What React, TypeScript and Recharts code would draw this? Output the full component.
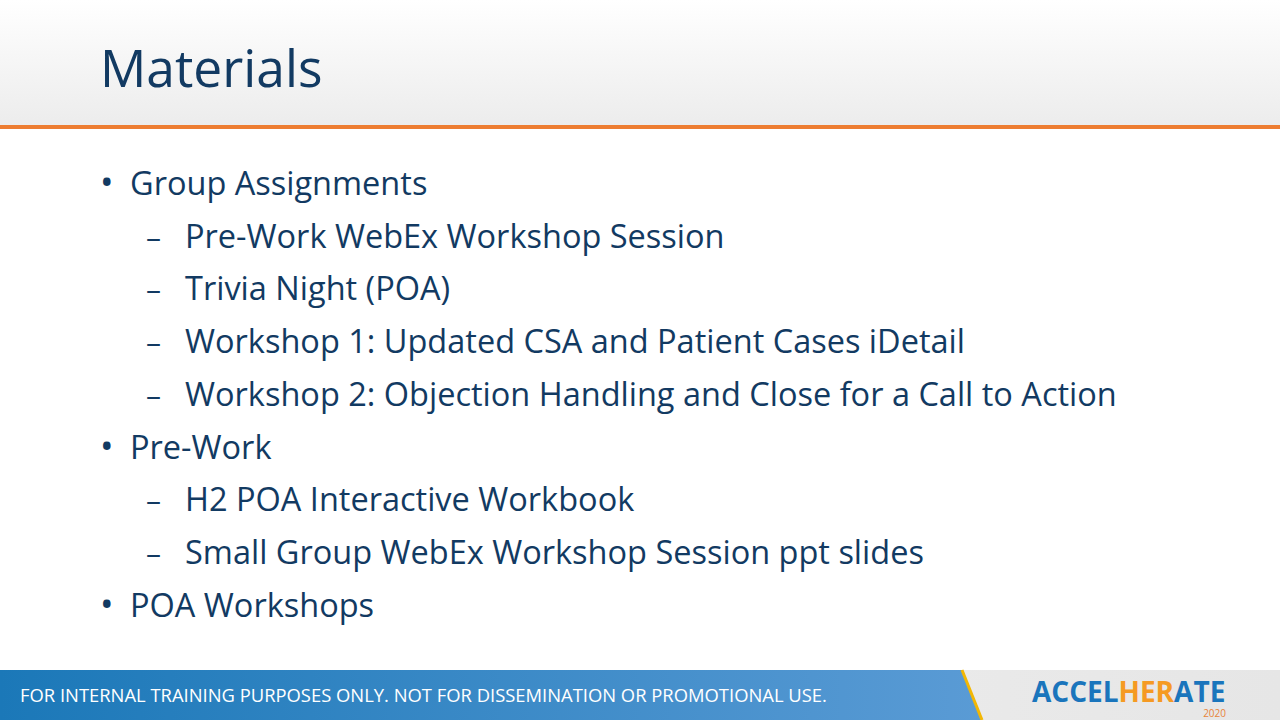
import { Surface, Text } from "recharts";

const TITLE = "Materials";
const ITEM_TEXTS = [
  "Group Assignments",
  "Pre-Work WebEx Workshop Session",
  "Trivia Night (POA)",
  "Workshop 1: Updated CSA and Patient Cases iDetail",
  "Workshop 2: Objection Handling and Close for a Call to Action",
  "Pre-Work",
  "H2 POA Interactive Workbook",
  "Small Group WebEx Workshop Session ppt slides",
  "POA Workshops",
];
const ITEM_LEVELS = [0, 1, 1, 1, 1, 0, 1, 1, 0];
const FOOTER = "FOR INTERNAL TRAINING PURPOSES ONLY. NOT FOR DISSEMINATION OR PROMOTIONAL USE.";

const NAVY = "#123a62";
const FONT = "'Open Sans', sans-serif";

export default function App() {
  return (
    <div style={{ position: "absolute", left: 0, top: 0, width: 1280, height: 720, background: "#fff" }}>
      <Surface width={1280} height={720}>
        <defs>
          <linearGradient id="hdr" x1="0" y1="0" x2="0" y2="1">
            <stop offset="0" stopColor="#ffffff" />
            <stop offset="1" stopColor="#ececec" />
          </linearGradient>
          <linearGradient id="ftr" x1="0" y1="0" x2="1" y2="0">
            <stop offset="0" stopColor="#1b78b8" />
            <stop offset="1" stopColor="#5a9bd5" />
          </linearGradient>
          <linearGradient id="ftr2" x1="0" y1="0" x2="1" y2="0">
            <stop offset="0" stopColor="#f4f4f4" />
            <stop offset="1" stopColor="#e6e6e6" />
          </linearGradient>
        </defs>
        <rect x={0} y={0} width={1280} height={126} fill="url(#hdr)" />
        <rect x={0} y={125} width={1280} height={4} fill="#ed7d31" />
        <Text x={100} y={87} fontSize={51.5} fill={NAVY} fontFamily={FONT}>{TITLE}</Text>

        {ITEM_TEXTS.map((t, i) => {
          const y = 195 + i * 52.7;
          const lvl = ITEM_LEVELS[i];
          return (
            <g key={t}>
              <Text x={lvl ? 146 : 100} y={y} fontSize={lvl ? 30 : 36} fill={NAVY} fontFamily={FONT}>{lvl ? "–" : "•"}</Text>
              <Text x={lvl ? 185 : 130} y={y} fontSize={32.5} fill={NAVY} fontFamily={FONT}>{t}</Text>
            </g>
          );
        })}

        <rect x={0} y={670} width={1280} height={50} fill="url(#ftr2)" />
        <polygon points="0,670 962,670 982,720 0,720" fill="url(#ftr)" />
        <line x1={962} y1={670} x2={982} y2={720} stroke="#f2b705" strokeWidth={3} />
        <Text x={20} y={702} fontSize={18.4} fill="#fff" fontFamily={FONT}>{FOOTER}</Text>
        <text x={1032} y={702} fontSize={28} fontWeight={700} fontFamily={FONT} fill="#1a75bc">
          ACCEL<tspan fill="#f59a23">HER</tspan>ATE
        </text>
        <Text x={1226} y={717} fontSize={10} textAnchor="end" fill="#e8843a" fontFamily={FONT}>2020</Text>
      </Surface>
    </div>
  );
}
